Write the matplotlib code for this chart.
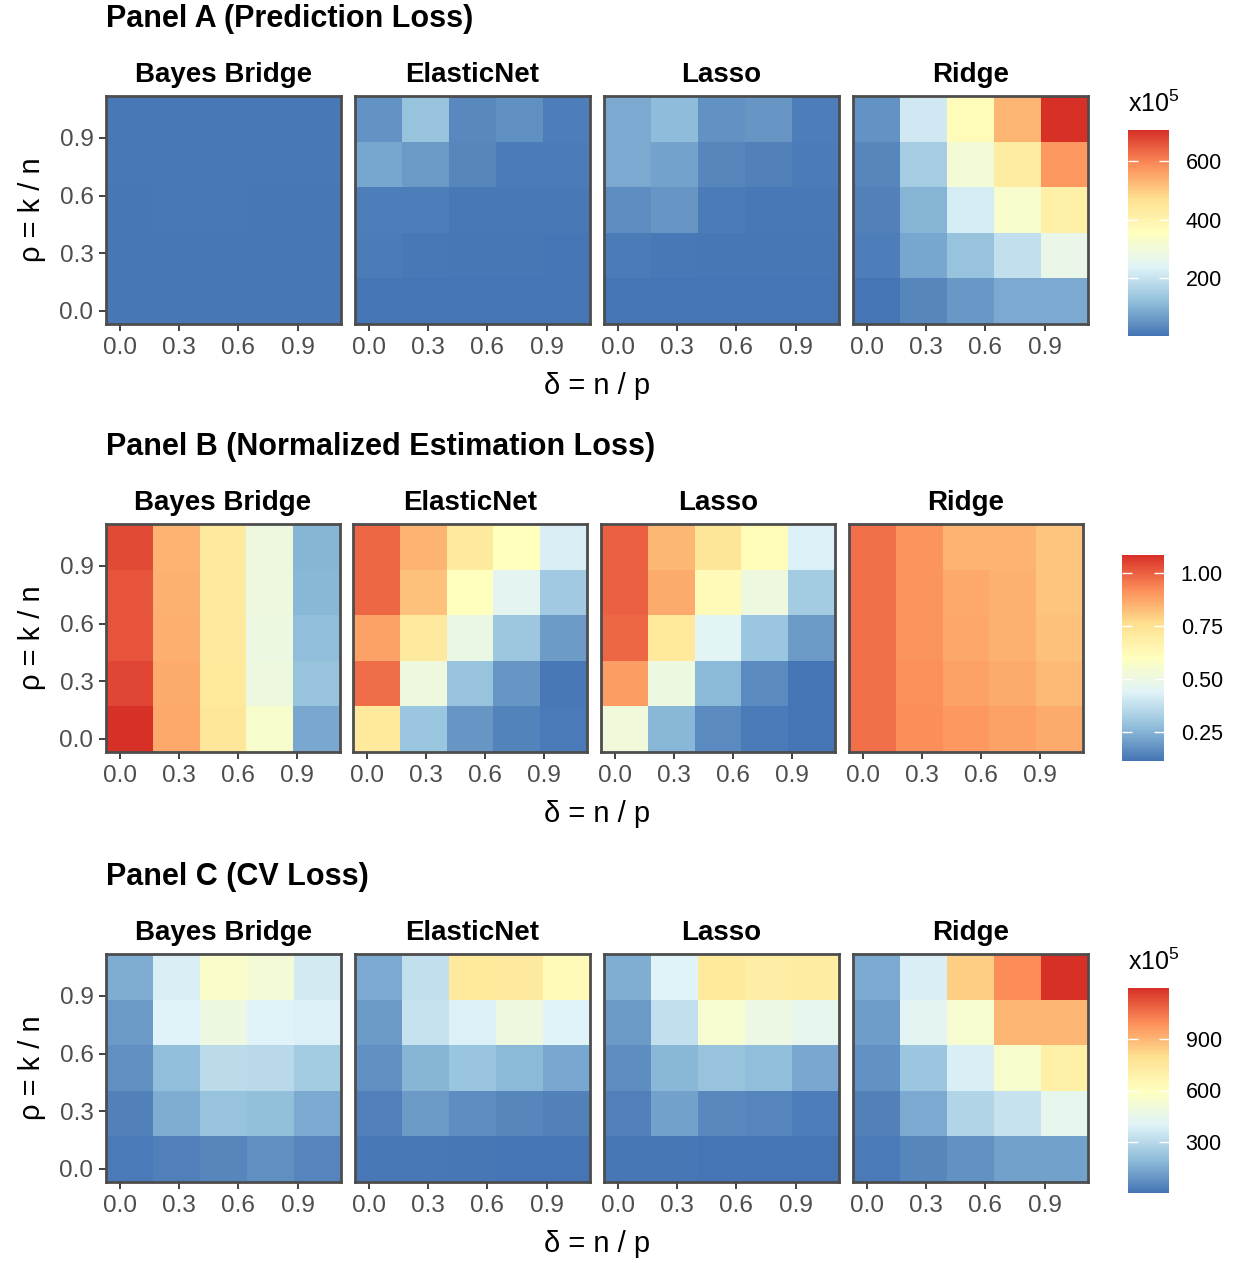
import numpy as np
import matplotlib
matplotlib.use("Agg")
import matplotlib.pyplot as plt
from matplotlib.colors import LinearSegmentedColormap, Normalize

plt.rcParams["font.family"] = ["Liberation Sans", "DejaVu Sans"]
plt.rcParams["mathtext.default"] = "regular"

# grid values (tile centres)
delta = [0.05, 0.2875, 0.525, 0.7625, 1.0]
rho = [0.05, 0.2875, 0.525, 0.7625, 1.0]
methods = ["Bayes Bridge", "ElasticNet", "Lasso", "Ridge"]
ticks = [0.0, 0.3, 0.6, 0.9]

# Panel A (prediction loss, x10^5), rows read from top (rho = 1.0) to bottom
pred_bayes = [[10, 11, 10, 10, 9],
              [9, 10, 10, 9, 9],
              [8, 9, 9, 8, 8],
              [8, 8, 8, 8, 8],
              [7, 7, 7, 7, 7]]
pred_enet = [[52, 130, 35, 45, 17],
             [80, 63, 31, 14, 14],
             [17, 17, 10, 9, 9],
             [16, 10, 7, 6, 5],
             [4, 5, 4, 4, 4]]
pred_lasso = [[87, 116, 49, 56, 17],
              [87, 77, 31, 24, 14],
              [42, 56, 14, 9, 9],
              [14, 11, 7, 6, 6],
              [5, 5, 4, 4, 4]]
pred_ridge = [[52, 214, 369, 531, 707],
              [31, 151, 306, 425, 573],
              [24, 102, 221, 327, 411],
              [17, 80, 130, 193, 271],
              [3, 31, 59, 87, 87]]

# Panel B (normalized estimation loss)
est_bayes = [[1.037, 0.848, 0.707, 0.513, 0.256],
             [1.018, 0.853, 0.707, 0.513, 0.261],
             [1.018, 0.858, 0.707, 0.503, 0.275],
             [1.047, 0.863, 0.717, 0.513, 0.290],
             [1.086, 0.868, 0.722, 0.562, 0.227]]
est_enet = [[0.989, 0.848, 0.707, 0.601, 0.426],
            [0.989, 0.824, 0.601, 0.460, 0.309],
            [0.882, 0.707, 0.494, 0.304, 0.202],
            [0.979, 0.513, 0.290, 0.188, 0.123],
            [0.717, 0.299, 0.188, 0.149, 0.130]]
est_lasso = [[0.999, 0.843, 0.732, 0.620, 0.431],
             [0.999, 0.863, 0.625, 0.513, 0.314],
             [0.989, 0.717, 0.450, 0.299, 0.198],
             [0.892, 0.508, 0.266, 0.164, 0.117],
             [0.523, 0.261, 0.164, 0.130, 0.115]]
est_ridge = [[0.974, 0.911, 0.848, 0.848, 0.814],
             [0.974, 0.911, 0.868, 0.853, 0.814],
             [0.974, 0.911, 0.872, 0.853, 0.824],
             [0.974, 0.916, 0.882, 0.863, 0.838],
             [0.974, 0.921, 0.902, 0.882, 0.863]]

# Panel C (CV loss, x10^5)
cv_bayes = [[155, 386, 564, 517, 368],
            [107, 404, 481, 404, 392],
            [77, 202, 309, 303, 250],
            [42, 155, 220, 208, 149],
            [24, 36, 54, 77, 48]]
cv_enet = [[149, 327, 743, 731, 636],
           [107, 339, 392, 493, 402],
           [77, 178, 226, 190, 143],
           [36, 107, 71, 54, 42],
           [16, 16, 11, 10, 10]]
cv_lasso = [[160, 404, 743, 707, 725],
            [107, 327, 541, 475, 446],
            [71, 184, 220, 202, 143],
            [36, 125, 59, 48, 30],
            [12, 12, 6, 8, 10]]
cv_ridge = [[149, 386, 838, 998, 1194],
            [113, 422, 541, 897, 897],
            [83, 232, 386, 552, 695],
            [42, 149, 285, 339, 446],
            [20, 54, 83, 125, 125]]

# RdYlBu (brewer, 7 classes) reversed, like scale_fill_distiller
brewer = ["#4575B4", "#91BFDB", "#E0F3F8", "#FFFFBF", "#FEE090", "#FC8D59", "#D73027"]
cmap = LinearSegmentedColormap.from_list("rdylbu", brewer)

W, H = 1233, 1263
fig = plt.figure(figsize=(W / 100, H / 100), dpi=100)


def px_axes(left, top, width, height):
    return fig.add_axes([left / W, 1 - (top + height) / H, width / W, height / H])


panels = [
    {"title": "Panel A (Prediction Loss)", "data": [pred_bayes, pred_enet, pred_lasso, pred_ridge],
     "top": 96, "lefts": [106, 355, 604, 853], "w": 235, "cb": (1128, 130, 41, 206),
     "cticks": [200, 400, 600], "fmt": "%d", "sci": True},
    {"title": "Panel B (Normalized Estimation Loss)", "data": [est_bayes, est_enet, est_lasso, est_ridge],
     "top": 524, "lefts": [106, 353, 601, 849], "w": 234, "cb": (1122, 555, 42, 206),
     "cticks": [0.25, 0.5, 0.75, 1.0], "fmt": "%.2f", "sci": False},
    {"title": "Panel C (CV Loss)", "data": [cv_bayes, cv_enet, cv_lasso, cv_ridge],
     "top": 954, "lefts": [106, 355, 604, 853], "w": 235, "cb": (1128, 988, 41, 205),
     "cticks": [300, 600, 900], "fmt": "%d", "sci": True},
]

ph = 228
for p in panels:
    top = p["top"]
    allvals = np.array(p["data"], dtype=float)
    norm = Normalize(vmin=allvals.min(), vmax=allvals.max())

    fig.text(106 / W, 1 - (top - 77) / H, p["title"], fontsize=22, fontweight="bold",
             ha="left", va="center")

    for i, (name, vals) in enumerate(zip(methods, p["data"])):
        ax = px_axes(p["lefts"][i], top, p["w"], ph)
        z = np.array(vals, dtype=float)[::-1]
        mesh = ax.pcolormesh(delta, rho, z, shading="nearest", cmap=cmap, norm=norm,
                             linewidth=0, antialiased=False)
        ax.set_xticks(ticks)
        ax.set_xticklabels(["%.1f" % t for t in ticks])
        ax.set_yticks(ticks)
        if i == 0:
            ax.set_yticklabels(["%.1f" % t for t in ticks])
        else:
            ax.tick_params(axis="y", left=False, labelleft=False)
        ax.tick_params(labelsize=17.5, labelcolor="#4D4D4D", color="#333333",
                       length=5, width=1.3, pad=4)
        for s in ax.spines.values():
            s.set_color("#4D4D4D")
            s.set_linewidth(2)
        ax.set_title(name, fontsize=20, fontweight="bold", pad=10)

    # shared axis labels
    fig.text(597 / W, 1 - (top + 290) / H, "δ = n / p", fontsize=21, ha="center", va="center")
    fig.text(32 / W, 1 - (top + 114) / H, "ρ = k / n", fontsize=21, ha="center", va="center",
             rotation=90)

    # colour bar
    cl, ct, cw, chh = p["cb"]
    cax = px_axes(cl, ct, cw, chh)
    cb = fig.colorbar(mesh, cax=cax)
    cb.outline.set_visible(False)
    cb.set_ticks(p["cticks"])
    cb.set_ticklabels([p["fmt"] % t for t in p["cticks"]])
    cax.tick_params(axis="y", direction="in", length=7, width=1, color="white",
                    labelcolor="black", labelsize=15.5, left=True, right=True,
                    labelleft=False, labelright=True, pad=12)
    if p["sci"]:
        fig.text(cl / W, 1 - (ct - 26) / H, "x10$^5$", fontsize=18, ha="left", va="center")

fig.savefig("out.png", dpi=100)
